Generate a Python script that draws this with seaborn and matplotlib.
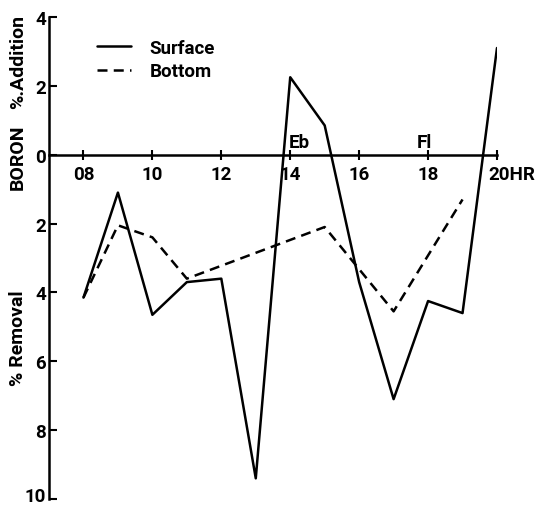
import matplotlib
matplotlib.use('agg')
import matplotlib.pyplot as plt
import matplotlib.transforms as mtrans
import seaborn as sns
import pandas as pd

# boron change (+ addition / - removal), percent
surface_hr = [8, 9, 10, 11, 12, 13, 14, 15, 16, 17, 18, 19, 20]
surface_val = [-4.15, -1.1, -4.65, -3.7, -3.6, -9.4, 2.25, 0.85, -3.7, -7.1, -4.25, -4.6, 3.1]
bottom_hr = [8, 9, 10, 11, 15, 17, 19]
bottom_val = [-4.15, -2.05, -2.4, -3.6, -2.1, -4.55, -1.3]
xticks = [8, 10, 12, 14, 16, 18, 20]
xlabels = ["08", "10", "12", "14", "16", "18", "20HR"]
yticks = [4, 2, 0, -2, -4, -6, -8, -10]
ylabels = ["4", "2", "0", "2", "4", "6", "8", "10"]

sns.set_style("white")
plt.rcParams['font.family'] = ['Roboto', 'DejaVu Sans']
plt.rcParams['font.weight'] = 'bold'
plt.rcParams['text.color'] = 'black'
plt.rcParams['xtick.color'] = 'black'
plt.rcParams['ytick.color'] = 'black'

fs = 13.5

fig = plt.figure(figsize=(5.35, 5.06), dpi=100)
ax = fig.add_axes([49/535, 1 - 500/506, 448/535, 482/506])

surf = pd.DataFrame({"hr": surface_hr, "val": surface_val})
bot = pd.DataFrame({"hr": bottom_hr, "val": bottom_val})
sns.lineplot(data=surf, x="hr", y="val", ax=ax, color="black", lw=1.8, label="Surface")
sns.lineplot(data=bot, x="hr", y="val", ax=ax, color="black", lw=1.8,
             linestyle=(0, (4, 2.5)), label="Bottom")

ax.set_xlim(7, 20)
ax.set_ylim(-10, 4)
ax.spines['top'].set_visible(False)
ax.spines['right'].set_visible(False)
ax.spines['bottom'].set_position(('data', 0))
for s in ['left', 'bottom']:
    ax.spines[s].set_linewidth(1.8)
    ax.spines[s].set_color('black')

ax.set_xticks(xticks)
ax.set_xticklabels(xlabels, fontsize=fs)
ax.set_yticks(yticks)
ax.set_yticklabels(ylabels, fontsize=fs)
ax.tick_params(axis='x', direction='inout', length=7, width=1.5, pad=4, bottom=True)
ax.tick_params(axis='y', direction='in', length=6, width=1.5, pad=2, left=True)
lab20 = ax.get_xticklabels()[-1]
lab20.set_horizontalalignment('left')
lab20.set_transform(lab20.get_transform() + mtrans.ScaledTranslation(-9/100, 0, fig.dpi_scale_trans))
lab10 = ax.get_yticklabels()[-1]
lab10.set_transform(lab10.get_transform() + mtrans.ScaledTranslation(0, 5/100, fig.dpi_scale_trans))

ax.set_xlabel("")
ax.set_ylabel("")
fig.text(18/535, 1 - 157/506, "BORON", rotation=90, ha='center', va='center', fontsize=14)
fig.text(18/535, 1 - 62/506, "%.Addition", rotation=90, ha='center', va='center', fontsize=14)
fig.text(18/535, 1 - 338/506, "% Removal", rotation=90, ha='center', va='center', fontsize=14)

ax.text(14.25, 0.12, "Eb", fontsize=fs, ha='center', va='bottom')
ax.text(17.9, 0.12, "Fl", fontsize=fs, ha='center', va='bottom')

ax.legend(loc='upper left', bbox_to_anchor=(0.07, 0.99), frameon=False, fontsize=fs,
          handlelength=1.8, handletextpad=1.0, labelspacing=0.3)

fig.savefig("out.png", dpi=100)
